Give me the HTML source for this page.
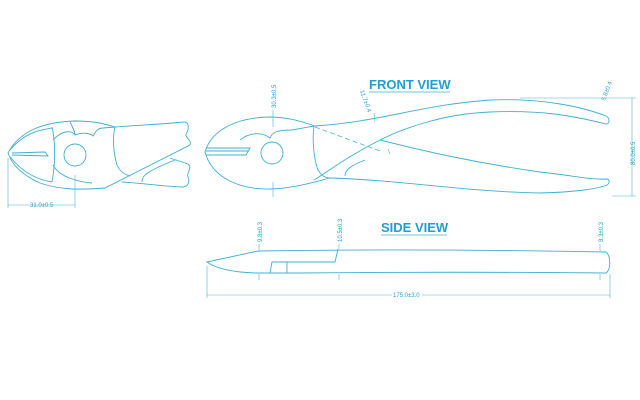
<!DOCTYPE html>
<html><head><meta charset="utf-8"><style>
html,body{margin:0;padding:0;background:#fff;width:640px;height:400px;overflow:hidden}
svg{display:block}
.s{fill:none;stroke:#3fb0cf;stroke-width:0.9}
.d{fill:none;stroke:#4ab5d3;stroke-width:0.6}
.t{font-family:"Liberation Sans",sans-serif;font-size:6px;fill:#2a9fc8}
.h{font-family:"Liberation Sans",sans-serif;font-size:13px;font-weight:bold;fill:#1e9fd3}
</style></head><body>
<svg width="640" height="400" viewBox="0 0 640 400">
<!-- LEFT VIEW -->
<path class="s" d="M8,153 C20,130 45,122 75,121 C95,121 105,124 115,127 C140,125 165,124 183,122 C190,121 189,130 186,134 C185,138 192,140 190,145 L105,188 C80,190 60,190 40,183 C22,175 12,165 8,153 Z"/>
<path class="s" d="M170,158 L188,164 C193,168 186,172 188,177 C190,182 188,187 182,187 C160,186 140,183 122,182"/>
<path class="s" d="M142,182 C142,176 145,172 175,160"/>
<path class="s" d="M115,127 C112,140 114,155 117,165 C120,172 126,175 130,176"/>
<path class="s" d="M70,122 C73,128 75,132 75,135 C82,132 90,133 93,136 C96,131 98,128 103,128 L115,127"/>
<path class="s" d="M52,127 C55,140 56,160 52,182"/>
<path class="s" d="M12,153 L45,152 L48,156 L12,155"/>
<path class="s" d="M10,150 C25,132 40,130 52,128"/>
<path class="s" d="M10,157 C25,175 40,180 52,182"/>
<path class="s" d="M53,140 C62,130 72,130 75,135"/>
<path class="s" d="M53,165 C60,178 80,182 92,183"/>
<circle class="s" cx="75" cy="155" r="11"/>
<line class="d" x1="8" y1="158" x2="8" y2="208"/>
<line class="d" x1="75" y1="175" x2="75" y2="208"/>
<line class="d" x1="8" y1="205" x2="75" y2="205"/>
<text class="t" x="30" y="207">31.0±0.5</text>
<!-- FRONT VIEW -->
<text class="h" x="369" y="89">FRONT VIEW</text>
<line x1="369" y1="92" x2="450" y2="92" stroke="#6cc3dd" stroke-width="1"/>
<path class="s" d="M205,152 C212,128 240,117 272,117 C295,118 308,124 315,126 C380,122 420,105 490,100 C540,98 580,106 606,116 C610,118 610,124 606,124 C570,115 540,110 490,112 C440,114 400,130 380,140 C350,155 330,170 314,180"/>
<path class="s" d="M205,152 C212,178 240,190 272,189 C295,188 318,181 330,178 C400,180 470,192 540,193 C580,192 600,188 607,185 C610,183 610,179 606,179 C590,180 570,175 540,172 C470,162 420,150 380,140"/>
<path class="s" d="M314,126 C312,140 314,160 318,170 C322,176 325,178 330,178"/>
<path class="s" d="M345,176 C345,170 350,166 365,160"/>
<path class="s" d="M206,148 L250,148 L246,155 L206,155 M206,151 L248,151"/>
<path class="s" d="M240,140 C250,132 262,132 270,138 C272,132 278,130 292,130 L314,126"/>
<line x1="315" y1="127" x2="380" y2="151" stroke="#4ab5d3" stroke-width="0.8" stroke-dasharray="5,3"/>
<circle class="s" cx="272" cy="153" r="11"/>
<line class="d" x1="273" y1="110" x2="273" y2="127"/>
<line class="d" x1="273" y1="182" x2="273" y2="197"/>
<text class="t" transform="translate(276,108) rotate(-90)">30.3±0.5</text>
<text class="t" transform="translate(360,91) rotate(70)">11.7±0.4</text>
<line class="d" x1="374" y1="113" x2="375" y2="122"/>
<line class="d" x1="388" y1="149" x2="390" y2="154"/>
<text class="t" transform="translate(605,101) rotate(-70)">5.8±0.4</text>
<line class="d" x1="520" y1="98" x2="636" y2="98"/>
<line class="d" x1="612" y1="196" x2="636" y2="196"/>
<line class="d" x1="632" y1="98" x2="632" y2="196"/>
<text class="t" transform="translate(635,165) rotate(-90)">80.0±0.5</text>
<!-- SIDE VIEW -->
<text class="h" x="381" y="232">SIDE VIEW</text>
<line x1="381" y1="235" x2="447" y2="235" stroke="#6cc3dd" stroke-width="1"/>
<path class="s" d="M207,262 L258,251 C380,249 500,250 606,252 C611,256 611,270 606,273 C500,272 400,272 300,273 L255,273 C230,272 215,268 207,262 Z"/>
<path class="s" d="M270,273 L272,262 L335,262 L338,249"/>
<line class="s" x1="287" y1="262" x2="287" y2="273"/>
<line class="d" x1="259" y1="244" x2="259" y2="250"/>
<line class="d" x1="259" y1="274" x2="259" y2="280"/>
<line class="d" x1="339" y1="244" x2="339" y2="249"/>
<line class="d" x1="339" y1="274" x2="339" y2="280"/>
<line class="d" x1="600" y1="244" x2="600" y2="251"/>
<line class="d" x1="600" y1="274" x2="600" y2="280"/>
<text class="t" transform="translate(262,242) rotate(-90)">9.8±0.3</text>
<text class="t" transform="translate(342,242) rotate(-90)">10.5±0.3</text>
<text class="t" transform="translate(603,242) rotate(-90)">8.3±0.3</text>
<line class="d" x1="207" y1="266" x2="207" y2="298"/>
<line class="d" x1="610" y1="274" x2="610" y2="298"/>
<line class="d" x1="207" y1="295" x2="610" y2="295"/>
<rect x="392" y="291" width="30" height="8" fill="#fff"/>
<text class="t" x="393" y="297">175.0±3.0</text>
</svg>
</body></html>
